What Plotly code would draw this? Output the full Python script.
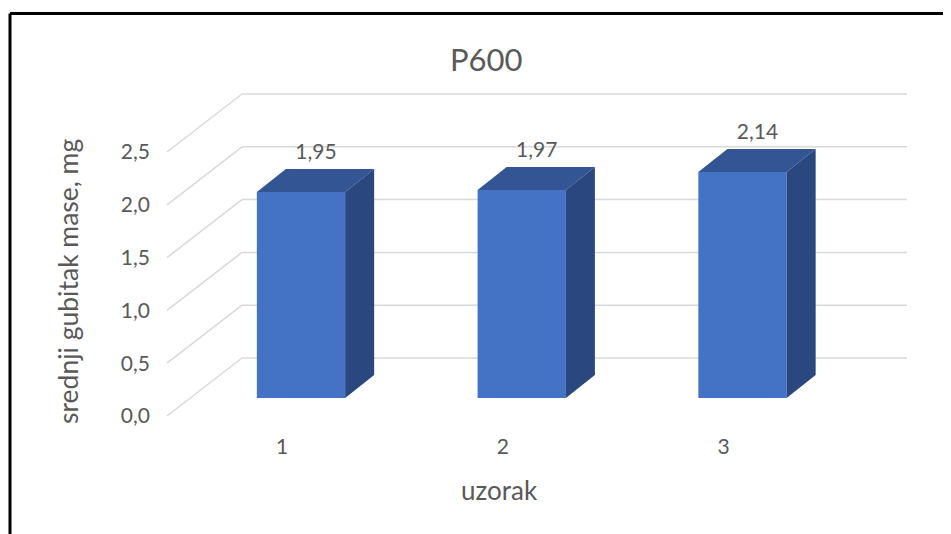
import plotly.graph_objects as go

# data
categories = [1, 2, 3]
values = [1.95, 1.97, 2.14]
y_ticks = [0.0, 0.5, 1.0, 1.5, 2.0, 2.5]

title = "P600"
x_title = "uzorak"
y_title = "srednji gubitak mase, mg"

# style
FRONT = "#4472C4"
TOP = "#335594"
SIDE = "#2A4780"
GRID = "#D9D9D9"
TEXT = "#595959"
FONT = "Lato"

OFF = 8  # page margin around the plot div
W, H = 951 - OFF, 534 - OFF
PX_X = 220.75  # pixels per category
PX_Y = 105.6   # pixels per mg
X0 = 1 - (301 - OFF) / PX_X
X1 = X0 + W / PX_X
Y1 = (398 - OFF) / PX_Y
Y0 = Y1 - H / PX_Y


def dx(px):
    return px / PX_X


def dy(px):
    return px / PX_Y


def px_x(p):
    return (p - OFF) / W


def px_y(p):
    return 1 - (p - OFF) / H


# fake 3d geometry (pixel offsets turned into data units)
BAR_W = 0.4
DEPTH_X, DEPTH_Y = dx(29), dy(23)
WALL_L, WALL_R = X0 + dx(242 - OFF), X0 + dx(907 - OFF)
WALL_UP = dy(40)
FLOOR_X, FLOOR_Y = dx(-75), dy(-58)

fig = go.Figure()

# front faces
fig.add_trace(go.Bar(x=categories, y=values, width=BAR_W,
                     marker=dict(color=FRONT, line=dict(width=0)),
                     showlegend=False, hoverinfo="skip"))

# top and side faces
top_x, top_y, side_x, side_y = [], [], [], []
for c, v in zip(categories, values):
    l, r = c - BAR_W / 2, c + BAR_W / 2
    top_x += [l, r, r + DEPTH_X, l + DEPTH_X, l, None]
    top_y += [v, v, v + DEPTH_Y, v + DEPTH_Y, v, None]
    side_x += [r, r + DEPTH_X, r + DEPTH_X, r, r, None]
    side_y += [0, DEPTH_Y, v + DEPTH_Y, v, 0, None]

fig.add_trace(go.Scatter(x=top_x, y=top_y, mode="lines", fill="toself",
                         fillcolor=TOP, line=dict(width=0, color=TOP),
                         showlegend=False, hoverinfo="skip"))
fig.add_trace(go.Scatter(x=side_x, y=side_y, mode="lines", fill="toself",
                         fillcolor=SIDE, line=dict(width=0, color=SIDE),
                         showlegend=False, hoverinfo="skip"))

# data labels
fig.add_trace(go.Scatter(
    x=[c + dx(15) for c in categories],
    y=[v + DEPTH_Y + dy(15) for v in values],
    text=[f"{v:.2f}".replace(".", ",") for v in values],
    mode="text", textposition="middle center",
    textfont=dict(family=FONT, size=21, color=TEXT),
    showlegend=False, hoverinfo="skip"))

# empty trace so the label axes get drawn
fig.add_trace(go.Scatter(x=[None], y=[None], xaxis="x2", yaxis="y2",
                         showlegend=False, hoverinfo="skip"))

# back wall and floor gridlines
shapes = []
for v in y_ticks:
    yb = v + WALL_UP
    shapes.append(dict(type="line", xref="x", yref="y", layer="below",
                       x0=WALL_L, x1=WALL_R, y0=yb, y1=yb,
                       line=dict(color=GRID, width=1.5)))
    shapes.append(dict(type="line", xref="x", yref="y", layer="below",
                       x0=WALL_L, x1=WALL_L + FLOOR_X, y0=yb, y1=yb + FLOOR_Y,
                       line=dict(color=GRID, width=1.5)))
# frame (only top and left edges are inside the screenshot)
shapes.append(dict(type="line", xref="paper", yref="paper",
                   x0=px_x(10), x1=1.0, y0=px_y(13.5), y1=px_y(13.5),
                   line=dict(color="black", width=3)))
shapes.append(dict(type="line", xref="paper", yref="paper",
                   x0=px_x(10), x1=px_x(10), y0=0.0, y1=px_y(13.5),
                   line=dict(color="black", width=3)))

tick_font = dict(family=FONT, size=21, color=TEXT)

fig.update_layout(
    width=W, height=H,
    margin=dict(l=0, r=0, t=0, b=0),
    paper_bgcolor="white", plot_bgcolor="white",
    separators=", ",
    shapes=shapes,
    xaxis=dict(range=[X0, X1], visible=False),
    yaxis=dict(range=[Y0, Y1], visible=False),
    xaxis2=dict(overlaying="x", anchor="free", position=px_y(432),
                range=[X0 + dx(19), X1 + dx(19)], tickvals=categories,
                showgrid=False, zeroline=False, showline=False, ticks="",
                tickfont=tick_font),
    yaxis2=dict(overlaying="y", anchor="free", position=px_x(150),
                range=[Y0 + dy(18), Y1 + dy(18)], tickvals=y_ticks,
                tickformat=".1f", showgrid=False, zeroline=False,
                showline=False, ticks="", tickfont=tick_font),
    annotations=[
        dict(text=title, xref="paper", yref="paper", x=px_x(486), y=px_y(59),
             xanchor="center", yanchor="middle", showarrow=False,
             font=dict(family=FONT, size=31, color=TEXT)),
        dict(text=x_title, xref="paper", yref="paper", x=px_x(499), y=px_y(490),
             xanchor="center", yanchor="middle", showarrow=False,
             font=dict(family=FONT, size=26, color=TEXT)),
        dict(text=y_title, xref="paper", yref="paper", x=px_x(68), y=px_y(282),
             xanchor="center", yanchor="middle", textangle=-90, showarrow=False,
             font=dict(family=FONT, size=26.5, color=TEXT)),
    ],
)

fig.write_html("out.html")
